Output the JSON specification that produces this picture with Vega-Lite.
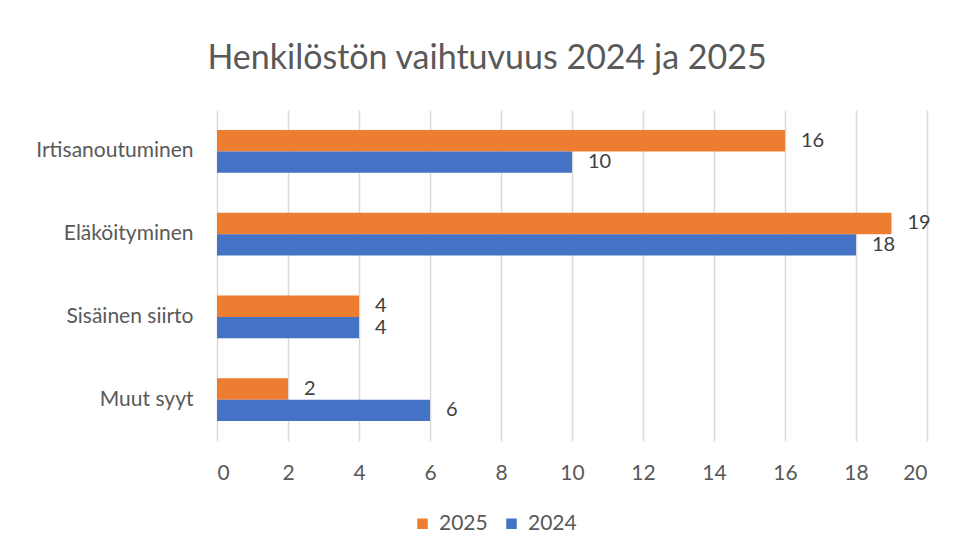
{
  "$schema": "https://vega.github.io/schema/vega-lite/v6.json",
  "width": 710,
  "height": 331,
  "autosize": {"type": "none"},
  "padding": {"left": 217, "top": 110, "right": 30, "bottom": 114},
  "background": "white",
  "config": {"view": {"stroke": null}},
  "title": {
    "text": "Henkilöstön vaihtuvuus 2024 ja 2025",
    "fontSize": 34,
    "font": "Lato",
    "fontWeight": "normal",
    "color": "#595959",
    "anchor": "middle",
    "dx": -85,
    "offset": 34
  },
  "data": {
    "values": [
      {"syy": "Irtisanoutuminen", "vuosi": "2025", "arvo": 16},
      {"syy": "Irtisanoutuminen", "vuosi": "2024", "arvo": 10},
      {"syy": "Eläköityminen", "vuosi": "2025", "arvo": 19},
      {"syy": "Eläköityminen", "vuosi": "2024", "arvo": 18},
      {"syy": "Sisäinen siirto", "vuosi": "2025", "arvo": 4},
      {"syy": "Sisäinen siirto", "vuosi": "2024", "arvo": 4},
      {"syy": "Muut syyt", "vuosi": "2025", "arvo": 2},
      {"syy": "Muut syyt", "vuosi": "2024", "arvo": 6}
    ]
  },
  "encoding": {
    "y": {
      "field": "syy",
      "type": "nominal",
      "sort": ["Irtisanoutuminen", "Eläköityminen", "Sisäinen siirto", "Muut syyt"],
      "scale": {"paddingInner": 0.485, "paddingOuter": 0.2425},
      "axis": {
        "title": null,
        "ticks": false,
        "domain": false,
        "labelFontSize": 21,
        "labelFont": "Lato",
        "labelColor": "#595959",
        "labelPadding": 24
      }
    },
    "yOffset": {"field": "vuosi", "type": "nominal", "sort": ["2025", "2024"]},
    "x": {
      "field": "arvo",
      "type": "quantitative",
      "scale": {"domain": [0, 20], "nice": false},
      "axis": {
        "title": null,
        "values": [0, 2, 4, 6, 8, 10, 12, 14, 16, 18, 20],
        "ticks": false,
        "domain": false,
        "grid": true,
        "gridColor": "#D9D9D9",
        "gridWidth": 1.5,
        "labelFontSize": 21,
        "labelFont": "Lato",
        "labelColor": "#595959",
        "labelPadding": 21
      }
    }
  },
  "layer": [
    {
      "mark": {"type": "bar"},
      "encoding": {
        "color": {
          "field": "vuosi",
          "type": "nominal",
          "scale": {"domain": ["2025", "2024"], "range": ["#ED7D31", "#4472C4"]},
          "legend": {
            "title": null,
            "orient": "none",
            "direction": "horizontal",
            "legendX": 195,
            "legendY": 403,
            "symbolType": "square",
            "symbolSize": 110,
            "symbolStrokeWidth": 0,
            "labelFontSize": 21,
            "labelFont": "Lato",
            "labelColor": "#595959",
            "columnPadding": 13,
            "labelOffset": 6
          }
        }
      }
    },
    {
      "mark": {
        "type": "text",
        "align": "left",
        "baseline": "middle",
        "dx": 16,
        "fontSize": 20,
        "font": "Lato",
        "color": "#404040"
      },
      "encoding": {"text": {"field": "arvo", "type": "quantitative"}}
    }
  ]
}
